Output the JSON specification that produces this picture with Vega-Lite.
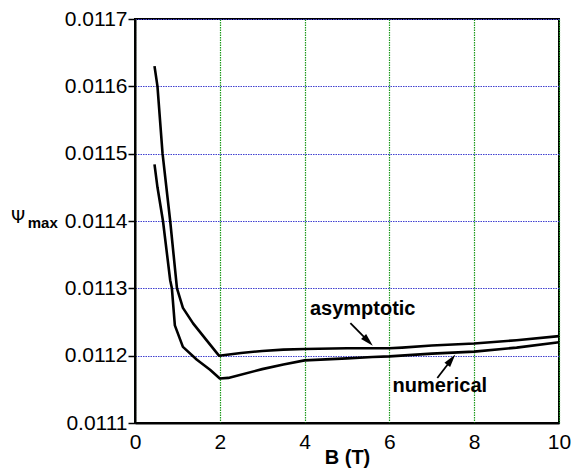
{
  "$schema": "https://vega.github.io/schema/vega-lite/v6.json",
  "autosize": "none",
  "width": 424,
  "height": 404,
  "padding": {"left": 135, "top": 19, "right": 27, "bottom": 53},
  "background": "white",
  "config": {
    "view": {"stroke": "black", "strokeWidth": 2},
    "font": "Liberation Sans",
    "axis": {
      "labelFont": "Liberation Sans",
      "labelFontSize": 21,
      "labelColor": "black",
      "domainColor": "black",
      "domainWidth": 2,
      "tickColor": "black",
      "tickWidth": 1.5,
      "titleFont": "Liberation Sans",
      "titleColor": "black"
    }
  },
  "datasets": {
    "curves": [
      {"series": "asymptotic", "B": 0.46, "psi": 0.01163},
      {"series": "asymptotic", "B": 0.53, "psi": 0.0116},
      {"series": "asymptotic", "B": 0.65, "psi": 0.0115},
      {"series": "asymptotic", "B": 0.83, "psi": 0.0114},
      {"series": "asymptotic", "B": 0.99, "psi": 0.0113},
      {"series": "asymptotic", "B": 1.13, "psi": 0.011271},
      {"series": "asymptotic", "B": 1.37, "psi": 0.011248},
      {"series": "asymptotic", "B": 1.7, "psi": 0.011222},
      {"series": "asymptotic", "B": 1.98, "psi": 0.0112},
      {"series": "asymptotic", "B": 2.5, "psi": 0.011204},
      {"series": "asymptotic", "B": 3.0, "psi": 0.011207},
      {"series": "asymptotic", "B": 3.5, "psi": 0.011209},
      {"series": "asymptotic", "B": 4.0, "psi": 0.01121},
      {"series": "asymptotic", "B": 5.0, "psi": 0.011211},
      {"series": "asymptotic", "B": 6.0, "psi": 0.011211},
      {"series": "asymptotic", "B": 6.3, "psi": 0.011212},
      {"series": "asymptotic", "B": 7.0, "psi": 0.011215},
      {"series": "asymptotic", "B": 8.0, "psi": 0.011218},
      {"series": "asymptotic", "B": 9.0, "psi": 0.011223},
      {"series": "asymptotic", "B": 10.0, "psi": 0.011229},
      {"series": "numerical", "B": 0.46, "psi": 0.011484},
      {"series": "numerical", "B": 0.53, "psi": 0.01145},
      {"series": "numerical", "B": 0.66, "psi": 0.0114},
      {"series": "numerical", "B": 0.83, "psi": 0.011312},
      {"series": "numerical", "B": 0.87, "psi": 0.0113},
      {"series": "numerical", "B": 0.94, "psi": 0.011245},
      {"series": "numerical", "B": 1.13, "psi": 0.011213},
      {"series": "numerical", "B": 1.46, "psi": 0.011194},
      {"series": "numerical", "B": 1.77, "psi": 0.011179},
      {"series": "numerical", "B": 2.0, "psi": 0.011166},
      {"series": "numerical", "B": 2.2, "psi": 0.011167},
      {"series": "numerical", "B": 3.0, "psi": 0.01118},
      {"series": "numerical", "B": 3.5, "psi": 0.011187},
      {"series": "numerical", "B": 4.0, "psi": 0.011193},
      {"series": "numerical", "B": 5.0, "psi": 0.011196},
      {"series": "numerical", "B": 5.6, "psi": 0.011198},
      {"series": "numerical", "B": 6.0, "psi": 0.011199},
      {"series": "numerical", "B": 7.0, "psi": 0.011203},
      {"series": "numerical", "B": 8.0, "psi": 0.011206},
      {"series": "numerical", "B": 9.0, "psi": 0.011212},
      {"series": "numerical", "B": 10.0, "psi": 0.01122}
    ],
    "labels": [
      {"text": "asymptotic", "B": 5.37, "psi": 0.01126},
      {"text": "numerical", "B": 7.19, "psi": 0.0111465}
    ],
    "arrows": [
      {"B": 5.08, "psi": 0.0112485, "B2": 5.5, "psi2": 0.0112215, "angle": 135},
      {"B": 7.13, "psi": 0.0111668, "B2": 7.46, "psi2": 0.011194, "angle": 38}
    ],
    "ylabel": [
      {"text": "Ψ", "B": -2.59, "psi": 0.011397, "part": "main"},
      {"text": "max", "B": -2.53, "psi": 0.0113896, "part": "sub"}
    ]
  },
  "layer": [
    {
      "data": {"name": "curves"},
      "mark": {"type": "line", "color": "black", "strokeWidth": 2.6, "strokeJoin": "round"},
      "encoding": {
        "x": {
          "field": "B", "type": "quantitative",
          "scale": {"domain": [0, 10], "nice": false, "zero": false},
          "axis": {
            "values": [0, 2, 4, 6, 8, 10],
            "title": "B (T)",
            "titleFontSize": 20,
            "titleFontWeight": "bold",
            "titleBaseline": "alphabetic",
            "titleY": 40,
            "ticks": false,
            "labelPadding": 8,
            "labelFlush": false,
            "grid": true,
            "gridColor": "#1c9a1c",
            "gridDash": [1.5, 1],
            "gridWidth": 1.2
          }
        },
        "y": {
          "field": "psi", "type": "quantitative",
          "scale": {"domain": [0.0111, 0.0117], "nice": false, "zero": false},
          "axis": {
            "values": [0.0111, 0.0112, 0.0113, 0.0114, 0.0115, 0.0116, 0.0117],
            "format": ".4f",
            "title": null,
            "tickSize": 7,
            "labelPadding": 1,
            "labelFlush": false,
            "grid": true,
            "gridColor": "#4040d0",
            "gridDash": [1.5, 1],
            "gridWidth": 1.2
          }
        },
        "detail": {"field": "series"}
      }
    },
    {
      "data": {"name": "arrows"},
      "mark": {"type": "rule", "color": "black", "strokeWidth": 1.8},
      "encoding": {
        "x": {"field": "B", "type": "quantitative"},
        "y": {"field": "psi", "type": "quantitative"},
        "x2": {"field": "B2"},
        "y2": {"field": "psi2"}
      }
    },
    {
      "data": {"name": "arrows"},
      "mark": {"type": "point", "shape": "M0,-1L0.55,1L-0.55,1Z", "filled": true, "color": "black", "opacity": 1, "size": 170},
      "encoding": {
        "x": {"field": "B2", "type": "quantitative"},
        "y": {"field": "psi2", "type": "quantitative"},
        "angle": {"field": "angle", "type": "quantitative", "scale": null}
      }
    },
    {
      "data": {"name": "labels"},
      "mark": {"type": "text", "font": "Liberation Sans", "fontSize": 20, "fontWeight": "bold", "align": "center", "baseline": "alphabetic", "color": "black"},
      "encoding": {
        "x": {"field": "B", "type": "quantitative"},
        "y": {"field": "psi", "type": "quantitative"},
        "text": {"field": "text"}
      }
    },
    {
      "data": {"name": "ylabel"},
      "transform": [{"filter": "datum.part == 'main'"}],
      "mark": {"type": "text", "font": "DejaVu Sans", "fontSize": 18, "align": "right", "baseline": "alphabetic", "color": "black"},
      "encoding": {
        "x": {"field": "B", "type": "quantitative"},
        "y": {"field": "psi", "type": "quantitative"},
        "text": {"field": "text"}
      }
    },
    {
      "data": {"name": "ylabel"},
      "transform": [{"filter": "datum.part == 'sub'"}],
      "mark": {"type": "text", "font": "Liberation Sans", "fontSize": 15, "fontWeight": "bold", "align": "left", "baseline": "alphabetic", "color": "black"},
      "encoding": {
        "x": {"field": "B", "type": "quantitative"},
        "y": {"field": "psi", "type": "quantitative"},
        "text": {"field": "text"}
      }
    }
  ]
}
